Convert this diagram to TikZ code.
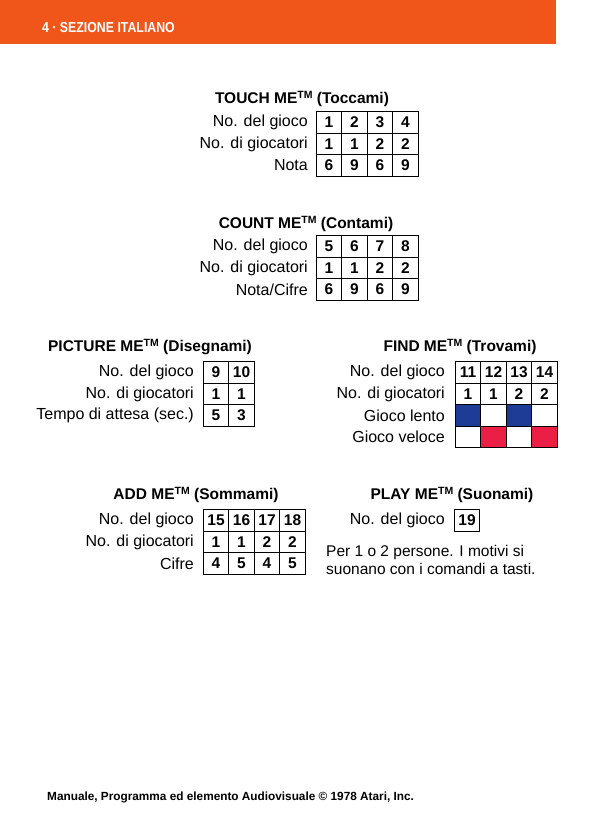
\documentclass[tikz,border=0pt]{standalone}
\usepackage{fontspec}
\setmainfont{Liberation Sans}
\usetikzlibrary{positioning}
\definecolor{atariorange}{RGB}{240,85,25}
\definecolor{slowblue}{RGB}{30,60,150}
\definecolor{fastred}{RGB}{235,30,70}
\tikzset{
  cell/.style={draw,line width=0.9pt,minimum width=25.5pt,minimum height=21.5pt,inner sep=0pt,font=\fontsize{15.5}{15}\selectfont\bfseries},
  rowlab/.style={anchor=east,inner sep=0pt,font=\fontsize{16}{16}\selectfont},
  title/.style={inner sep=0pt,font=\fontsize{15.5}{16}\selectfont\bfseries}
}
\newcommand{\tm}{\raisebox{0.6ex}{\fontsize{10.5}{10}\selectfont TM}}
\begin{document}
\begin{tikzpicture}[x=1pt,y=-1pt]
  \useasboundingbox (0,0) rectangle (600,840);
  \fill[atariorange] (0,0) rectangle (556,44);
  \node[anchor=west,text=white,inner sep=0pt,font=\fontsize{14.5}{14}\selectfont\bfseries\addfontfeature{FakeStretch=0.85}] (header) at (42,28) {4 · SEZIONE ITALIANO};

  % TOUCH ME
  \node[title] (touch) at (302,99) {TOUCH ME\tm{} (Toccami)};
  \foreach \v [count=\i] in {1,2,3,4} \node[cell] (ta\i) at (303.5+25.5*\i,122.5) {\v};
  \foreach \v [count=\i] in {1,1,2,2} \node[cell] (tb\i) at (303.5+25.5*\i,144) {\v};
  \foreach \v [count=\i] in {6,9,6,9} \node[cell] (tc\i) at (303.5+25.5*\i,165.5) {\v};
  \node[rowlab] (tla) at (308,122.5) {No. del gioco};
  \node[rowlab] (tlb) at (308,144) {No. di giocatori};
  \node[rowlab] (tlc) at (308,165.5) {Nota};

  % COUNT ME
  \node[title] (count) at (306,224) {COUNT ME\tm{} (Contami)};
  \foreach \v [count=\i] in {5,6,7,8} \node[cell] (ca\i) at (303.5+25.5*\i,246.5) {\v};
  \foreach \v [count=\i] in {1,1,2,2} \node[cell] (cb\i) at (303.5+25.5*\i,268) {\v};
  \foreach \v [count=\i] in {6,9,6,9} \node[cell] (cc\i) at (303.5+25.5*\i,289.5) {\v};
  \node[rowlab] (cla) at (308,246.5) {No. del gioco};
  \node[rowlab] (clb) at (308,268) {No. di giocatori};
  \node[rowlab] (clc) at (308,289.5) {Nota/Cifre};

  % PICTURE ME
  \node[title] (picture) at (150,347) {PICTURE ME\tm{} (Disegnami)};
  \foreach \v [count=\i] in {9,10} \node[cell] (pa\i) at (190.5+25.5*\i,372.5) {\v};
  \foreach \v [count=\i] in {1,1} \node[cell] (pb\i) at (190.5+25.5*\i,394) {\v};
  \foreach \v [count=\i] in {5,3} \node[cell] (pc\i) at (190.5+25.5*\i,415.5) {\v};
  \node[rowlab] (pla) at (194,372.5) {No. del gioco};
  \node[rowlab] (plb) at (194,394) {No. di giocatori};
  \node[rowlab] (plc) at (194,415.5) {Tempo di attesa (sec.)};

  % FIND ME
  \node[title] (find) at (460,347) {FIND ME\tm{} (Trovami)};
  \foreach \v [count=\i] in {11,12,13,14} \node[cell] (fa\i) at (442.5+25.5*\i,372.5) {\v};
  \foreach \v [count=\i] in {1,1,2,2} \node[cell] (fb\i) at (442.5+25.5*\i,394) {\v};
  \foreach \c [count=\i] in {slowblue,white,slowblue,white} \node[cell,fill=\c] (fc\i) at (442.5+25.5*\i,415.5) {};
  \foreach \c [count=\i] in {white,fastred,white,fastred} \node[cell,fill=\c] (fd\i) at (442.5+25.5*\i,437) {};
  \node[rowlab] (fla) at (445,372.5) {No. del gioco};
  \node[rowlab] (flb) at (445,394) {No. di giocatori};
  \node[rowlab] (flc) at (445,415.5) {Gioco lento};
  \node[rowlab] (fld) at (445,437) {Gioco veloce};

  % ADD ME
  \node[title] (add) at (196,495) {ADD ME\tm{} (Sommami)};
  \foreach \v [count=\i] in {15,16,17,18} \node[cell] (aa\i) at (190.5+25.5*\i,520.5) {\v};
  \foreach \v [count=\i] in {1,1,2,2} \node[cell] (ab\i) at (190.5+25.5*\i,542) {\v};
  \foreach \v [count=\i] in {4,5,4,5} \node[cell] (ac\i) at (190.5+25.5*\i,563.5) {\v};
  \node[rowlab] (ala) at (194,520.5) {No. del gioco};
  \node[rowlab] (alb) at (194,542) {No. di giocatori};
  \node[rowlab] (alc) at (194,563.5) {Cifre};

  % PLAY ME
  \node[title] (play) at (452,495) {PLAY ME\tm{} (Suonami)};
  \node[cell] (pm) at (467,520.5) {19};
  \node[rowlab] (pml) at (445,520.5) {No. del gioco};
  \node[anchor=north west,inner sep=0pt,align=left,font=\fontsize{15.5}{18.5}\selectfont] (note) at (326,545) {Per 1 o 2 persone. I motivi si\\suonano con i comandi a tasti.};

  % footer
  \node[anchor=west,inner sep=0pt,font=\fontsize{11.8}{12}\selectfont\bfseries] (footer) at (47,797) {Manuale, Programma ed elemento Audiovisuale \textcopyright\ 1978 Atari, Inc.};
\end{tikzpicture}
\end{document}
